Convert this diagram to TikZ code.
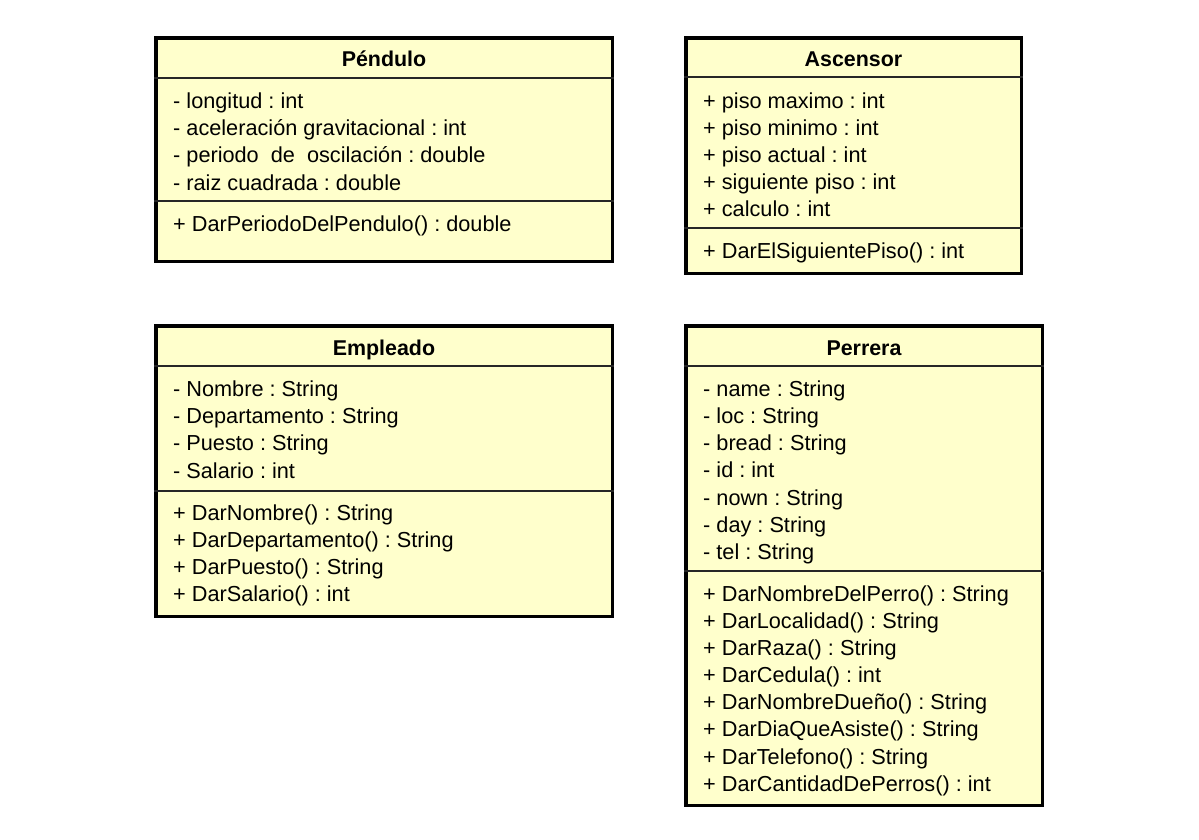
\documentclass[tikz,border=0pt]{standalone}
\usepackage{fontspec}
\setmainfont{Liberation Sans}
\frenchspacing
\begin{document}
\begin{tikzpicture}[x=1pt,y=-1pt,
  classbox/.style={draw=black, line width=3.5pt, fill=umlfill, inner sep=0pt, anchor=north west},
  sepline/.style={draw=black!85, line width=1.5pt},
  member/.style={anchor=west, inner sep=0pt, text height=16pt, text depth=4pt, font=\fontsize{21.7}{25}\selectfont},
  title/.style={inner sep=0pt, text height=16pt, text depth=4pt, font=\fontsize{21.4}{25}\selectfont\bfseries}]
\definecolor{umlfill}{HTML}{FFFFCC}
\useasboundingbox (0,0) rectangle (1199,839);
\fill[white] (0,0) rectangle (1199,839);

% Pendulo
\node[classbox, minimum width=456.5pt, minimum height=223.5pt] (pend) at (154,36) {};
\draw[sepline] (pend.north west |- 0,78) -- (pend.north east |- 0,78);
\draw[sepline] (pend.north west |- 0,201) -- (pend.north east |- 0,201);
\node[title] (pendt) at (384,60) {Péndulo};
\node[member] (p1) at (173,102) {- longitud : int};
\node[member] (p2) at (173,129) {- aceleración gravitacional : int};
\node[member] (p3) at (173,156) {- periodo\ \ de\ \ oscilación : double};
\node[member] (p4) at (173,184) {- raiz cuadrada : double};
\node[member] (p5) at (173,225) {+ DarPeriodoDelPendulo() : double};

% Ascensor
\node[classbox, minimum width=335.5pt, minimum height=235.5pt] (asc) at (684,36) {};
\draw[sepline] (asc.north west |- 0,77) -- (asc.north east |- 0,77);
\draw[sepline] (asc.north west |- 0,228) -- (asc.north east |- 0,228);
\node[title] (asct) at (853.5,60) {Ascensor};
\node[member] (a1) at (703,102) {+ piso maximo : int};
\node[member] (a2) at (703,129) {+ piso minimo : int};
\node[member] (a3) at (703,156) {+ piso actual : int};
\node[member] (a4) at (703,183) {+ siguiente piso : int};
\node[member] (a5) at (703,210) {+ calculo : int};
\node[member] (a6) at (703,252) {+ DarElSiguientePiso() : int};

% Empleado
\node[classbox, minimum width=456.5pt, minimum height=290.5pt] (emp) at (154,324) {};
\draw[sepline] (emp.north west |- 0,366) -- (emp.north east |- 0,366);
\draw[sepline] (emp.north west |- 0,491) -- (emp.north east |- 0,491);
\node[title] (empt) at (384,349) {Empleado};
\node[member] (e1) at (173,390) {- Nombre : String};
\node[member] (e2) at (173,417) {- Departamento : String};
\node[member] (e3) at (173,444) {- Puesto : String};
\node[member] (e4) at (173,472) {- Salario : int};
\node[member] (e5) at (173,514) {+ DarNombre() : String};
\node[member] (e6) at (173,541) {+ DarDepartamento() : String};
\node[member] (e7) at (173,568) {+ DarPuesto() : String};
\node[member] (e8) at (173,595) {+ DarSalario() : int};

% Perrera
\node[classbox, minimum width=356.5pt, minimum height=479.5pt] (per) at (684,324) {};
\draw[sepline] (per.north west |- 0,366) -- (per.north east |- 0,366);
\draw[sepline] (per.north west |- 0,571) -- (per.north east |- 0,571);
\node[title] (pert) at (864,349) {Perrera};
\node[member] (r1) at (703,390) {- name : String};
\node[member] (r2) at (703,417) {- loc : String};
\node[member] (r3) at (703,444) {- bread : String};
\node[member] (r4) at (703,471) {- id : int};
\node[member] (r5) at (703,499) {- nown : String};
\node[member] (r6) at (703,526) {- day : String};
\node[member] (r7) at (703,553) {- tel : String};
\node[member] (m1) at (703,595) {+ DarNombreDelPerro() : String};
\node[member] (m2) at (703,622) {+ DarLocalidad() : String};
\node[member] (m3) at (703,649) {+ DarRaza() : String};
\node[member] (m4) at (703,676) {+ DarCedula() : int};
\node[member] (m5) at (703,703) {+ DarNombreDueño() : String};
\node[member] (m6) at (703,730) {+ DarDiaQueAsiste() : String};
\node[member] (m7) at (703,758) {+ DarTelefono() : String};
\node[member] (m8) at (703,785) {+ DarCantidadDePerros() : int};
\end{tikzpicture}
\end{document}
